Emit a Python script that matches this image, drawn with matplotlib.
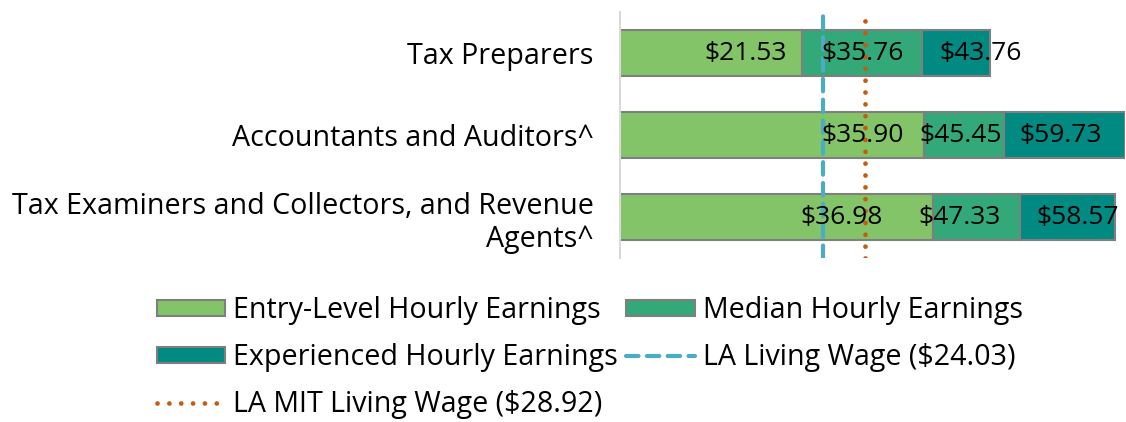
import matplotlib.pyplot as plt
import numpy as np

plt.rcParams['font.family'] = ['Open Sans', 'DejaVu Sans']

occupations = ["Tax Preparers",
               "Accountants and Auditors^",
               "Tax Examiners and Collectors, and Revenue\nAgents^"]
entry = [21.53, 35.90, 36.98]
median = [35.76, 45.45, 47.33]
experienced = [43.76, 59.73, 58.57]
living_wage = 24.03
mit_wage = 28.92

# where the data labels sit (data units), as in the original
label_x = [[14.84, 28.74, 42.64],
           [28.74, 40.33, 52.16],
           [26.20, 40.15, 54.10]]

c_entry = '#82C467'
c_median = '#33A97A'
c_exp = '#008A82'
edge = '#7F7F7F'

fig = plt.figure(figsize=(11.26, 4.22), dpi=100)
ax = fig.add_axes([620 / 1126, 1 - 258 / 422, 505 / 1126, 246 / 422])

y = np.arange(len(occupations))
entry = np.array(entry)
median = np.array(median)
experienced = np.array(experienced)
h = 0.57

b1 = ax.barh(y, entry, height=h, color=c_entry, edgecolor=edge, linewidth=1.5,
             label='Entry-Level Hourly Earnings')
b2 = ax.barh(y, median - entry, left=entry, height=h, color=c_median, edgecolor=edge,
             linewidth=1.5, label='Median Hourly Earnings')
b3 = ax.barh(y, experienced - median, left=median, height=h, color=c_exp, edgecolor=edge,
             linewidth=1.5, label='Experienced Hourly Earnings')

l1 = ax.axvline(living_wage, color='#4BACC6', linewidth=3, linestyle=(0, (3, 2)),
                dash_capstyle='round', label='LA Living Wage ($24.03)')
l2 = ax.axvline(mit_wage, color='#C55A11', linewidth=3.4, linestyle=(0, (0.01, 2.5)),
                dash_capstyle='round', label='LA MIT Living Wage ($28.92)')

for i in range(len(occupations)):
    vals = [entry[i], median[i], experienced[i]]
    for j, v in enumerate(vals):
        ax.text(label_x[i][j], y[i], "${:.2f}".format(v), ha='center', va='center',
                fontsize=19, color='black')

ax.set_xlim(0, 59.73)
ax.set_ylim(2.5, -0.5)
ax.set_yticks(y)
ax.set_yticklabels(occupations, fontsize=20.6, linespacing=1.22)
ax.tick_params(axis='y', length=0, pad=19)
ax.set_xticks([])
for s in ['top', 'right', 'bottom']:
    ax.spines[s].set_visible(False)
ax.spines['left'].set_color('#D9D9D9')
ax.spines['left'].set_linewidth(1.5)

handles = [b1, b3, l2, b2, l1]
fig.legend(handles=handles, labels=[hd.get_label() for hd in handles], ncol=2,
           loc='upper left', bbox_to_anchor=(157 / 1126, 1 - 296 / 422), frameon=False,
           fontsize=20.6, handlelength=2.38, handleheight=0.52, handletextpad=0.28,
           columnspacing=0.3, labelspacing=0.63, borderpad=0, borderaxespad=0)

fig.savefig('out.png', dpi=100)
